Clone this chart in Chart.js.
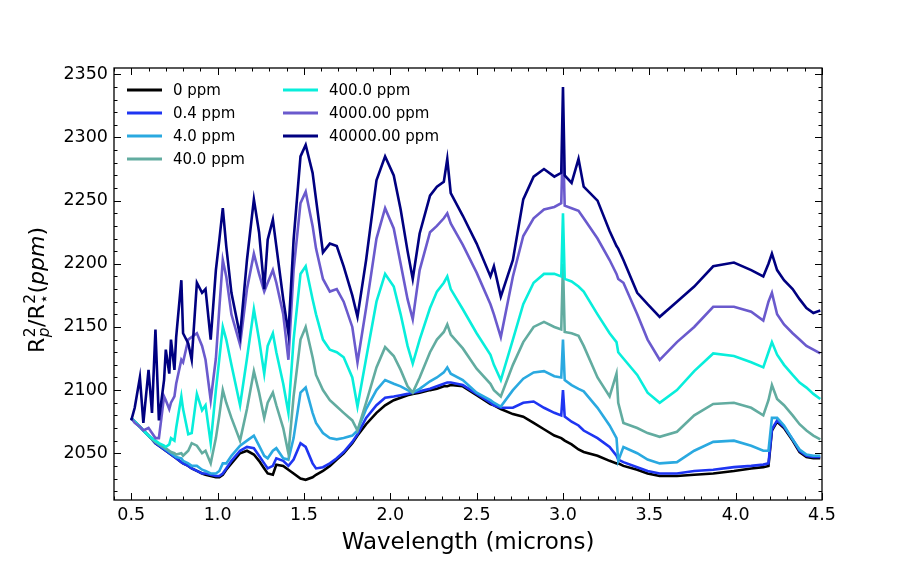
<!DOCTYPE html>
<html><head><meta charset="utf-8">
<script src="https://cdn.jsdelivr.net/npm/chart.js@4.4.1/dist/chart.umd.min.js"></script>
<style>html,body{margin:0;padding:0;background:#fff;}</style>
</head><body>
<canvas id="c" width="913" height="571"></canvas>
<script>
const wavelengths = [
0.50,0.52,0.55,0.57,0.60,0.62,0.64,0.66,0.69,0.70,
0.72,0.73,0.75,0.76,0.79,0.80,0.83,0.85,0.88,0.91,
0.93,0.96,0.99,1.01,1.03,1.05,1.08,1.13,1.17,1.21,
1.24,1.27,1.29,1.32,1.34,1.38,1.41,1.44,1.48,1.51,
1.55,1.57,1.61,1.65,1.69,1.73,1.78,1.81,1.86,1.92,
1.97,2.02,2.06,2.10,2.13,2.17,2.23,2.27,2.31,2.33,
2.35,2.42,2.50,2.58,2.60,2.64,2.71,2.77,2.83,2.89,
2.95,2.99,3.00,3.01,3.05,3.09,3.12,3.20,3.27,3.31,
3.32,3.35,3.43,3.49,3.56,3.66,3.76,3.87,3.99,4.09,
4.16,4.19,4.21,4.24,4.28,4.33,4.37,4.41,4.45,4.49];

const ppm0 = [
2078,2075,2071,2068,2064,2061,2058,2056,2053,2052,
2050,2049,2047,2046,2043,2042,2040,2038,2036,2034,
2033,2032,2031,2031,2033,2037,2042,2050,2052,2049,
2044,2038,2034,2033,2041,2040,2037,2034,2030,2029,
2031,2033,2036,2040,2045,2050,2058,2064,2073,2082,
2088,2092,2094,2096,2097,2098,2100,2101,2103,2103,
2104,2103,2096,2089,2088,2085,2081,2079,2074,2069,
2064,2062,2061,2060,2057,2053,2051,2048,2044,2042,
2042,2040,2037,2034,2032,2032,2033,2034,2036,2038,
2039,2040,2068,2075,2070,2060,2051,2047,2046,2046];

const ppm0_4 = [
2078,2075,2071,2068,2064,2061,2058,2056,2053,2052,
2050,2049,2047,2046,2043,2042,2040,2038,2036,2034,
2034,2033,2032,2032,2034,2038,2044,2052,2055,2054,
2048,2042,2038,2040,2046,2044,2040,2045,2058,2055,
2042,2038,2039,2042,2046,2051,2059,2065,2078,2088,
2094,2095,2096,2097,2098,2099,2101,2103,2105,2106,
2106,2104,2097,2090,2088,2086,2086,2090,2091,2086,
2082,2080,2100,2079,2075,2072,2068,2062,2055,2048,
2045,2043,2039,2036,2034,2034,2036,2037,2039,2040,
2041,2042,2069,2076,2071,2061,2052,2048,2047,2047];

const ppm4 = [
2078,2075,2071,2068,2064,2061,2059,2057,2054,2053,
2051,2050,2048,2047,2046,2044,2042,2040,2040,2037,
2036,2034,2034,2036,2042,2042,2048,2056,2060,2064,
2056,2048,2046,2052,2054,2046,2045,2062,2098,2102,
2082,2074,2066,2062,2061,2062,2064,2068,2085,2100,
2108,2105,2103,2100,2098,2101,2107,2110,2114,2118,
2113,2108,2098,2092,2090,2087,2100,2109,2114,2115,
2111,2110,2140,2108,2104,2101,2099,2086,2072,2062,
2044,2055,2050,2045,2042,2043,2052,2059,2060,2056,
2052,2052,2078,2078,2072,2061,2053,2049,2048,2048];

const ppm40 = [
2078,2075,2071,2068,2064,2061,2059,2057,2055,2054,
2052,2051,2050,2049,2050,2048,2052,2058,2056,2050,
2052,2042,2062,2080,2100,2090,2078,2060,2085,2115,
2098,2078,2090,2098,2088,2070,2050,2095,2140,2150,
2126,2112,2100,2092,2087,2082,2076,2068,2090,2118,
2134,2127,2116,2103,2098,2110,2130,2140,2146,2152,
2144,2133,2117,2105,2100,2095,2120,2138,2150,2154,
2150,2148,2200,2146,2145,2143,2135,2110,2095,2113,
2090,2074,2070,2066,2063,2067,2080,2089,2090,2086,
2080,2092,2104,2093,2088,2080,2073,2068,2064,2061];

const ppm400 = [
2078,2075,2071,2068,2064,2062,2060,2058,2056,2055,
2057,2062,2060,2070,2095,2085,2065,2066,2097,2084,
2088,2058,2100,2125,2150,2140,2120,2088,2125,2164,
2140,2113,2135,2145,2130,2105,2082,2140,2192,2198,
2172,2160,2140,2132,2130,2126,2110,2087,2125,2170,
2192,2182,2160,2135,2121,2140,2165,2178,2185,2190,
2180,2164,2145,2128,2120,2108,2140,2168,2185,2192,
2192,2190,2240,2188,2186,2182,2178,2160,2145,2138,
2130,2125,2112,2098,2090,2100,2115,2129,2127,2122,
2118,2130,2138,2128,2120,2112,2106,2102,2097,2093];

const ppm4000 = [
2078,2074,2071,2068,2070,2066,2062,2062,2095,2092,
2085,2090,2095,2105,2124,2122,2140,2142,2145,2135,
2124,2092,2125,2165,2203,2190,2160,2136,2180,2208,
2192,2178,2185,2195,2185,2160,2124,2195,2248,2257,
2230,2212,2188,2178,2180,2170,2150,2122,2165,2220,
2244,2228,2200,2172,2156,2195,2225,2230,2236,2240,
2232,2215,2193,2168,2160,2142,2190,2222,2236,2243,
2245,2248,2300,2246,2244,2242,2236,2220,2203,2192,
2188,2185,2160,2140,2124,2138,2150,2166,2166,2162,
2155,2170,2177,2160,2152,2145,2140,2135,2132,2129];

const ppm40000 = [
2076,2086,2110,2074,2116,2082,2148,2076,2108,2132,
2113,2140,2116,2142,2187,2145,2137,2124,2185,2177,
2180,2140,2195,2219,2244,2214,2177,2143,2203,2251,
2225,2180,2219,2235,2214,2172,2145,2219,2285,2294,
2272,2251,2209,2216,2214,2198,2175,2158,2203,2266,
2285,2270,2243,2210,2188,2224,2254,2261,2265,2283,
2256,2238,2216,2190,2198,2174,2203,2251,2269,2275,
2269,2272,2340,2270,2264,2283,2261,2250,2226,2214,
2212,2203,2177,2168,2158,2170,2182,2198,2201,2195,
2190,2200,2208,2195,2187,2180,2172,2165,2161,2163];

const seriesLabels = ['0 ppm','0.4 ppm','4.0 ppm','40.0 ppm','400.0 ppm','4000.00 ppm','40000.00 ppm'];
const seriesValues = [ppm0, ppm0_4, ppm4, ppm40, ppm400, ppm4000, ppm40000];
const seriesColors = ['#000000','#1e35f2','#2aa9e0','#62aca0','#08eedb','#6a5acd','#000080'];
const xTicks = [0.5,1.0,1.5,2.0,2.5,3.0,3.5,4.0,4.5];
const yTicks = [2050,2100,2150,2200,2250,2300,2350];
const xRange = [0.4, 4.5];
const yRange = [2013, 2355];
const xMinorStep = 0.1;
const yMinorStep = 10;

const FONT = 'DejaVu Sans';

const datasets = seriesValues.map((vals, i) => ({
  label: seriesLabels[i],
  data: wavelengths.map((w, j) => ({x: w, y: vals[j]})),
  borderColor: seriesColors[i],
  backgroundColor: seriesColors[i],
  borderWidth: 2.6,
  pointRadius: 0,
  tension: 0,
  fill: false,
  order: seriesValues.length - i
}));

const framePlugin = {
  id: 'frame',
  afterDatasetsDraw(chart) {
    const {ctx, chartArea: a, scales: {x, y}} = chart;
    ctx.save();
    ctx.strokeStyle = '#000';
    ctx.lineWidth = 1;
    ctx.beginPath();
    const nX = Math.round((xRange[1] - xRange[0]) / xMinorStep);
    for (let k = 0; k <= nX; k++) {
      const v = xRange[0] + k * xMinorStep;
      const major = xTicks.some(t => Math.abs(t - v) < 1e-6);
      const L = major ? 7 : 3.5;
      const p = Math.round(x.getPixelForValue(v)) + 0.5;
      ctx.moveTo(p, a.bottom); ctx.lineTo(p, a.bottom - L);
      ctx.moveTo(p, a.top); ctx.lineTo(p, a.top + L);
    }
    for (let v = Math.ceil(yRange[0] / yMinorStep) * yMinorStep; v <= yRange[1]; v += yMinorStep) {
      const major = yTicks.includes(v);
      const L = major ? 7 : 3.5;
      const p = Math.round(y.getPixelForValue(v)) + 0.5;
      ctx.moveTo(a.left, p); ctx.lineTo(a.left + L, p);
      ctx.moveTo(a.right, p); ctx.lineTo(a.right - L, p);
    }
    ctx.stroke();
    ctx.lineWidth = 1.3;
    ctx.strokeRect(a.left, a.top, a.right - a.left, a.bottom - a.top);
    ctx.restore();
  },
  afterDraw(chart) {
    const {ctx, chartArea: a} = chart;
    ctx.save();
    // legend (two columns)
    ctx.font = '15px "' + FONT + '"';
    ctx.textBaseline = 'middle';
    ctx.textAlign = 'left';
    const rows = 4;
    const colX = [127, 283];
    const rowY0 = 90, rowDy = 23;
    chart.data.datasets.forEach((ds, i) => {
      const c = Math.floor(i / rows), r = i % rows;
      const lx = colX[c], ly = rowY0 + r * rowDy;
      ctx.strokeStyle = ds.borderColor;
      ctx.lineWidth = 3;
      ctx.beginPath(); ctx.moveTo(lx, ly); ctx.lineTo(lx + 35, ly); ctx.stroke();
      ctx.fillStyle = '#000';
      ctx.fillText(ds.label, lx + 46, ly + 1);
    });
    // x title
    ctx.font = '23px "' + FONT + '"';
    ctx.textAlign = 'center';
    ctx.textBaseline = 'alphabetic';
    ctx.fillText('Wavelength (microns)', (a.left + a.right) / 2, 549);
    // y title with sub/superscripts
    const F = 22, s = 0.7 * F;
    const pieces = [
      {t: 'R', f: F + 'px "' + FONT + '"'},
      {sup: '2', sub: 'p', subItalic: true},
      {t: '/', f: F + 'px "' + FONT + '"'},
      {t: 'R', f: F + 'px "' + FONT + '"'},
      {sup: '2', sub: '\u22C6', subItalic: false},
      {t: '(', f: F + 'px "' + FONT + '"'},
      {t: 'ppm', f: 'italic ' + F + 'px "' + FONT + '"'},
      {t: ')', f: F + 'px "' + FONT + '"'}
    ];
    const fsup = s + 'px "' + FONT + '"';
    const fsubI = 'italic ' + s + 'px "' + FONT + '"';
    let W = 0;
    pieces.forEach(p => {
      if (p.t) { ctx.font = p.f; p.w = ctx.measureText(p.t).width; }
      else {
        ctx.font = fsup; const w1 = ctx.measureText(p.sup).width;
        ctx.font = p.subItalic ? fsubI : fsup; const w2 = ctx.measureText(p.sub).width;
        p.w = Math.max(w1, w2) + 1;
      }
      W += p.w;
    });
    ctx.translate(44, 290);
    ctx.rotate(-Math.PI / 2);
    ctx.textAlign = 'left';
    let cx = -W / 2;
    pieces.forEach(p => {
      if (p.t) { ctx.font = p.f; ctx.fillText(p.t, cx, 0); }
      else {
        ctx.font = fsup; ctx.fillText(p.sup, cx + 0.5, -0.42 * F);
        ctx.font = p.subItalic ? fsubI : fsup; ctx.fillText(p.sub, cx + 0.5, 0.22 * F);
      }
      cx += p.w;
    });
    ctx.restore();
  }
};

new Chart(document.getElementById('c'), {
  type: 'line',
  data: {datasets},
  options: {
    responsive: false,
    animation: false,
    devicePixelRatio: 1,
    layout: {padding: {left: 0, top: 68, right: 91, bottom: 0}},
    plugins: {legend: {display: false}, tooltip: {enabled: false}},
    scales: {
      x: {
        type: 'linear', min: xRange[0], max: xRange[1],
        afterBuildTicks: s => { s.ticks = xTicks.map(v => ({value: v})); },
        afterFit: s => { s.height = 71; },
        ticks: {callback: v => Number(v).toFixed(1), color: '#000', padding: 5, maxRotation: 0, autoSkip: false,
                font: {family: FONT, size: 17.5}},
        grid: {display: false, drawTicks: false},
        border: {display: false}
      },
      y: {
        type: 'linear', min: yRange[0], max: yRange[1],
        afterBuildTicks: s => { s.ticks = yTicks.map(v => ({value: v})); },
        afterFit: s => { s.width = 114; },
        ticks: {callback: v => String(v), color: '#000', padding: 6, autoSkip: false,
                font: {family: FONT, size: 17.5}},
        grid: {display: false, drawTicks: false},
        border: {display: false}
      }
    }
  },
  plugins: [framePlugin]
});
</script>
</body></html>
